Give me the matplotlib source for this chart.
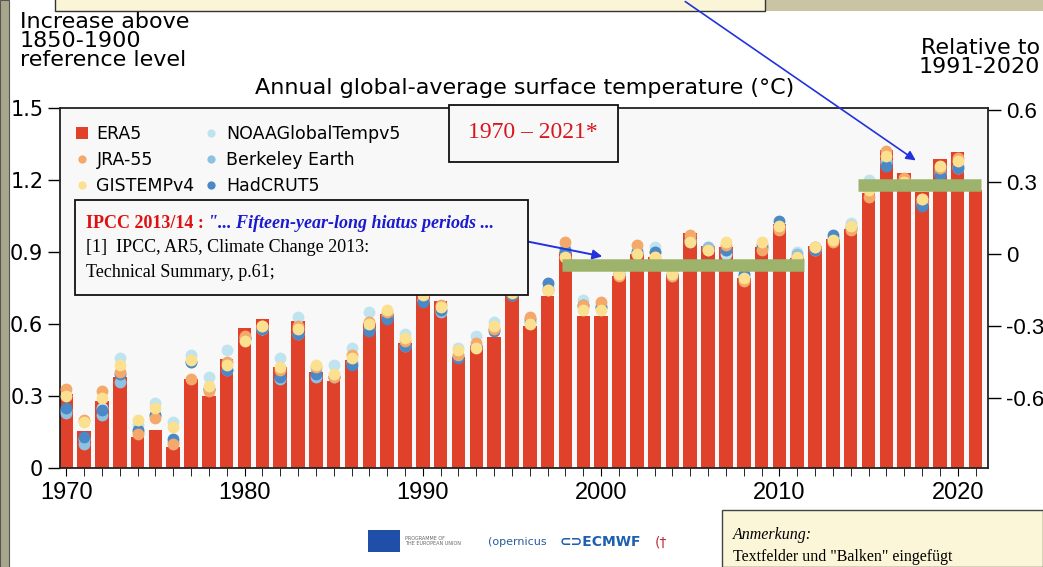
import numpy as np
import matplotlib.pyplot as plt
from matplotlib.patches import Rectangle

years = list(range(1970, 2022))

# ERA5 (bars), 1970-2021
era5 = [0.31, 0.155, 0.28, 0.38, 0.13, 0.16, 0.086, 0.37, 0.30, 0.455,
        0.585, 0.62, 0.42, 0.614, 0.40, 0.364, 0.45, 0.605, 0.64, 0.52,
        0.755, 0.696, 0.464, 0.51, 0.547, 0.72, 0.593, 0.718, 0.90, 0.635,
        0.633, 0.80, 0.89, 0.878, 0.81, 0.98, 0.926, 0.922, 0.79, 0.922,
        1.017, 0.874, 0.926, 0.953, 0.994, 1.145, 1.325, 1.23, 1.15, 1.286,
        1.318, 1.16]

# other datasets (dots), 1970-2020
dot_years = list(range(1970, 2021))
jra55 = [0.33, 0.20, 0.32, 0.40, 0.14, 0.21, 0.10, 0.37, 0.32, 0.44,
         0.55, 0.59, 0.41, 0.59, 0.42, 0.38, 0.47, 0.61, 0.65, 0.53,
         0.73, 0.68, 0.47, 0.52, 0.58, 0.76, 0.63, 0.74, 0.94, 0.68,
         0.69, 0.80, 0.93, 0.88, 0.80, 0.97, 0.91, 0.93, 0.78, 0.91,
         0.99, 0.87, 0.92, 0.94, 0.99, 1.13, 1.32, 1.21, 1.12, 1.25,
         1.29]
gistemp = [0.30, 0.19, 0.29, 0.43, 0.20, 0.25, 0.17, 0.45, 0.34, 0.43,
           0.53, 0.59, 0.42, 0.58, 0.43, 0.39, 0.46, 0.60, 0.66, 0.54,
           0.72, 0.67, 0.49, 0.50, 0.59, 0.73, 0.60, 0.74, 0.88, 0.66,
           0.66, 0.81, 0.89, 0.88, 0.81, 0.94, 0.91, 0.94, 0.79, 0.94,
           1.01, 0.88, 0.92, 0.95, 1.01, 1.16, 1.30, 1.19, 1.12, 1.26,
           1.28]
noaa = [0.24, 0.12, 0.25, 0.46, 0.18, 0.27, 0.19, 0.47, 0.38, 0.49,
        0.54, 0.58, 0.46, 0.63, 0.41, 0.43, 0.50, 0.65, 0.64, 0.56,
        0.70, 0.66, 0.50, 0.55, 0.61, 0.74, 0.61, 0.77, 0.92, 0.70,
        0.68, 0.82, 0.91, 0.92, 0.82, 0.95, 0.92, 0.89, 0.80, 0.93,
        1.00, 0.90, 0.91, 0.96, 1.02, 1.20, 1.28, 1.20, 1.11, 1.23,
        1.25]
berkeley = [0.23, 0.10, 0.22, 0.36, 0.15, 0.22, 0.11, 0.44, 0.33, 0.41,
            0.54, 0.58, 0.37, 0.56, 0.38, 0.38, 0.44, 0.58, 0.63, 0.51,
            0.70, 0.65, 0.47, 0.51, 0.58, 0.72, 0.61, 0.75, 0.90, 0.67,
            0.67, 0.81, 0.90, 0.90, 0.81, 0.95, 0.92, 0.91, 0.80, 0.93,
            1.01, 0.89, 0.92, 0.96, 1.01, 1.17, 1.27, 1.19, 1.10, 1.24,
            1.26]
hadcrut = [0.25, 0.13, 0.24, 0.39, 0.16, 0.22, 0.12, 0.44, 0.33, 0.41,
           0.54, 0.58, 0.38, 0.56, 0.39, 0.38, 0.43, 0.57, 0.62, 0.51,
           0.69, 0.66, 0.46, 0.51, 0.57, 0.72, 0.62, 0.77, 0.91, 0.68,
           0.67, 0.81, 0.90, 0.90, 0.80, 0.94, 0.91, 0.91, 0.81, 0.92,
           1.03, 0.88, 0.91, 0.97, 1.00, 1.16, 1.26, 1.18, 1.09, 1.22,
           1.25]

left_ticks = [0, 0.3, 0.6, 0.9, 1.2, 1.5]
left_labels = ["0", "0.3", "0.6", "0.9", "1.2", "1.5"]
right_ticks = [-0.6, -0.3, 0, 0.3, 0.6]
right_labels = ["-0.6", "-0.3", "0", "0.3", "0.6"]
offset = 0.89  # 1850-1900 -> 1991-2020

# "Balken" drawn in the slide
hiatus_x = [1997.8, 2011.4]
hiatus_y = 0.845
recent_x = [2014.4, 2021.3]
recent_y = 1.18

W, H = 1043, 567
fig = plt.figure(figsize=(W / 100, H / 100), dpi=100)
fig.patch.set_facecolor("white")

def px(x, y):
    return x / W, 1 - y / H

# slide frame bits
fig.patches.append(Rectangle((0, 0), 9 / W, 1, transform=fig.transFigure,
                             facecolor="#a9a78b", edgecolor="#555", lw=0.8))
fig.patches.append(Rectangle(px(765, 11), (W - 765) / W, 11 / H, transform=fig.transFigure,
                             facecolor="#c8c4a4", edgecolor="none"))
fig.patches.append(Rectangle(px(55, 11), (765 - 55) / W, 14 / H, transform=fig.transFigure,
                             facecolor="#fbf5d8", edgecolor="#333", lw=1.0))

ax = fig.add_axes([60 / W, 1 - 468 / H, (988 - 60) / W, (468 - 108) / H])
ax.set_facecolor("#f8f8f8")

ax.bar(years, era5, width=0.76, color="#e0412b", zorder=2, label="ERA5")
ms = 8.5
ax.plot(dot_years, noaa, "o", color="#bfe3ef", ms=ms, mew=0, zorder=3, label="NOAAGlobalTempv5")
ax.plot(dot_years, berkeley, "o", color="#8fc2e2", ms=ms, mew=0, zorder=3, label="Berkeley Earth")
ax.plot(dot_years, hadcrut, "o", color="#4b88c6", ms=ms, mew=0, zorder=3, label="HadCRUT5")
ax.plot(dot_years, jra55, "o", color="#f4a86a", ms=ms, mew=0, zorder=3, label="JRA-55")
ax.plot(dot_years, gistemp, "o", color="#fbe08f", ms=ms, mew=0, zorder=3, label="GISTEMPv4")

ax.hlines(hiatus_y, hiatus_x[0], hiatus_x[1], color="#9db36c", lw=9, zorder=4)
ax.hlines(recent_y, recent_x[0], recent_x[1], color="#9db36c", lw=9, zorder=4)

ax.set_xlim(1969.65, 2021.7)
ax.set_ylim(0, 1.5)
ax.set_yticks(left_ticks)
ax.set_yticklabels(left_labels)
ax.set_xticks(range(1970, 2022), minor=True)
ax.set_xticks(range(1970, 2021, 10))
ax.tick_params(axis="y", direction="out", length=9, width=1, labelsize=15, pad=3)
ax.tick_params(axis="x", which="major", direction="out", length=6, labelsize=17, pad=4)
ax.tick_params(axis="x", which="minor", direction="out", length=6)
for lab in ax.get_xticklabels():
    lab.set_fontfamily("Liberation Sans")
for s in ax.spines.values():
    s.set_linewidth(1.3)
    s.set_color("#222")

ax2 = ax.twinx()
ax2.set_ylim(0 - offset, 1.5 - offset)
ax2.set_yticks(right_ticks)
ax2.set_yticklabels(right_labels)
ax2.tick_params(axis="y", direction="out", length=9, width=1, labelsize=16, pad=4)
for lab in ax2.get_yticklabels():
    lab.set_fontfamily("Liberation Sans")
for s in ax2.spines.values():
    s.set_visible(False)

h, l = ax.get_legend_handles_labels()
order = ["ERA5", "JRA-55", "GISTEMPv4", "NOAAGlobalTempv5", "Berkeley Earth", "HadCRUT5"]
hd = dict(zip(l, h))
leg = ax.legend([hd[k] for k in order], order, loc="upper left", ncol=2, frameon=False,
                fontsize=12.5, bbox_to_anchor=(0.0, 0.995), handlelength=0.7,
                handletextpad=0.5, columnspacing=0.6, labelspacing=0.45, markerscale=0.7)
leg.set_zorder(5)

# texts around the chart
fig.text(20 / W, 1 - 12 / H, "Increase above\n1850-1900\nreference level", ha="left", va="top",
         fontsize=16, linespacing=0.95)
fig.text(1040 / W, 1 - 38 / H, "Relative to\n1991-2020", ha="right", va="top",
         fontsize=16, linespacing=0.95)
fig.text(525 / W, 1 - 88 / H, "Annual global-average surface temperature (\u00b0C)", ha="center",
         va="center", fontsize=16)

# "1970 - 2021*" box
fig.patches.append(Rectangle(px(449, 162), (618 - 449) / W, (162 - 105) / H, transform=fig.transFigure,
                             facecolor="#f8f8f8", edgecolor="#111", lw=1.3, zorder=6))
fig.text(533 / W, 1 - 133 / H, "1970 \u2013 2021*", ha="center", va="center", color="#d8161d",
         fontsize=17, family="Liberation Serif", zorder=7)

# IPCC box
fig.patches.append(Rectangle(px(75, 295), (528 - 75) / W, (295 - 200) / H, transform=fig.transFigure,
                             facecolor="#f8f8f8", edgecolor="#111", lw=1.3, zorder=6))
t1 = fig.text(86 / W, 1 - 223 / H, "IPCC 2013/14 : ", ha="left", va="center", color="#e01010",
              fontsize=13, family="Liberation Serif", weight="bold", zorder=7)
fig.add_artist(plt.Annotation('"... Fifteen-year-long hiatus periods ...', xy=(1, 0), xycoords=t1,
                              va="bottom", ha="left", color="#1a1ad0", fontsize=13,
                              family="Liberation Serif", weight="bold", style="italic",
                              zorder=7, annotation_clip=False))
fig.text(86 / W, 1 - 248 / H, "[1]  IPCC, AR5, Climate Change 2013:", ha="left", va="center",
         fontsize=13, family="Liberation Serif", zorder=7)
fig.text(86 / W, 1 - 273 / H, "Technical Summary, p.61;", ha="left", va="center",
         fontsize=13, family="Liberation Serif", zorder=7)

# arrows
fig.add_artist(plt.Annotation("", xy=px(605, 257), xytext=px(520, 240), xycoords="figure fraction",
                              textcoords="figure fraction",
                              arrowprops=dict(arrowstyle="-|>", color="#2233dd", lw=1.4,
                                              mutation_scale=14)))
fig.add_artist(plt.Annotation("", xy=px(918, 162), xytext=px(683, 0), xycoords="figure fraction",
                              textcoords="figure fraction",
                              arrowprops=dict(arrowstyle="-|>", color="#2233dd", lw=1.2,
                                              mutation_scale=14)))

# logos at the bottom
fig.patches.append(Rectangle(px(368, 552), 32 / W, 22 / H, transform=fig.transFigure,
                             facecolor="#1f4fa8", edgecolor="none"))
fig.text(405 / W, 1 - 541 / H, "PROGRAMME OF\nTHE EUROPEAN UNION", fontsize=3.5, color="#666",
         va="center", linespacing=1.0)
fig.text(488 / W, 1 - 542 / H, "(opernicus", fontsize=8, color="#2a5a9a", va="center")
fig.text(560 / W, 1 - 542 / H, "\u2282\u2283ECMWF", fontsize=10, color="#1f5fb0", va="center",
         weight="bold")
fig.text(655 / W, 1 - 542 / H, "(\u2020", fontsize=10, color="#c03040", va="center")

# Anmerkung box
fig.patches.append(Rectangle(px(722, 567), (W - 722) / W, (567 - 510) / H, transform=fig.transFigure,
                             facecolor="#fcf6d8", edgecolor="#444", lw=1.0))
fig.text(733 / W, 1 - 535 / H, "Anmerkung:", fontsize=11.5, family="Liberation Serif",
         style="italic", va="center")
fig.text(733 / W, 1 - 557 / H, 'Textfelder und "Balken" eingef\u00fcgt', fontsize=11.5,
         family="Liberation Serif", va="center")

fig.savefig("out.png", dpi=100)
